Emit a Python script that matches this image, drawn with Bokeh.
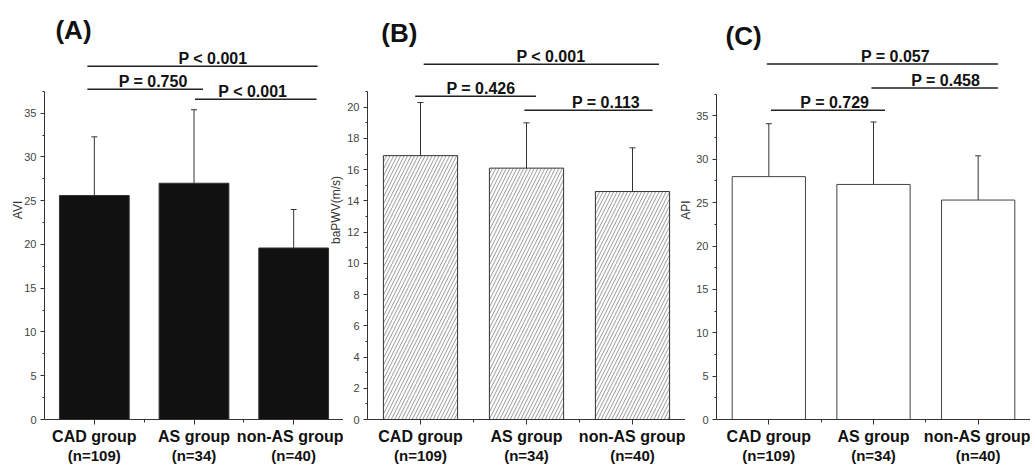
from bokeh.plotting import figure
from bokeh.layouts import row
from bokeh.models import (ColumnDataSource, Whisker, TeeHead, LinearAxis, FixedTicker,
                          SingleIntervalTicker, Range1d, Label)
from bokeh.embed import file_html
from bokeh.resources import INLINE

# ---------------- data ----------------
groups = ["CAD group", "AS group", "non-AS group"]
n_labels = ["(n=109)", "(n=34)", "(n=40)"]
positions = [1, 2, 3]

avi_mean = [25.6, 27.0, 19.6]
avi_sd = [6.7, 8.4, 4.4]

bapwv_mean = [16.9, 16.1, 14.6]
bapwv_sd = [3.4, 2.9, 2.8]

api_mean = [28.0, 27.1, 25.3]
api_sd = [6.1, 7.2, 5.1]

avi_p = ["P < 0.001", "P = 0.750", "P < 0.001"]
bapwv_p = ["P < 0.001", "P = 0.426", "P = 0.113"]
api_p = ["P = 0.057", "P = 0.458", "P = 0.729"]

# ---------------- layout constants (page pixels) ----------------
FONT = "Liberation Sans"
DARK = "#222222"
H = 466            # canvas height
ZERO = 420         # page y of value 0 (= bottom of the frame)


def make_panel(tag, means, sds, ylabel, tick_val, tick_page, bound, interval, pvals,
               brackets, tag_pos, width, border_left, label_standoff, style,
               upper_only, margin_left):
    k = (ZERO - tick_page) / tick_val      # pixels per data unit

    def ty(page_y):
        return (ZERO - page_y) / k

    p = figure(width=width, height=H, output_backend="svg", toolbar_location=None,
               x_range=Range1d(0.5, 3.5), y_range=Range1d(0, ty(0)),
               x_axis_location=None, y_axis_location=None,
               min_border_left=border_left, min_border_right=0, min_border_top=0,
               min_border_bottom=0)
    p.outline_line_color = None
    p.grid.visible = False
    p.border_fill_color = None
    p.background_fill_color = None
    if margin_left:
        p.margin = (0, 0, 0, margin_left)
    p.styles = {"flex-shrink": "0"}

    lower = [m if upper_only else m - s for m, s in zip(means, sds)]
    upper = [m + s for m, s in zip(means, sds)]
    src = ColumnDataSource(dict(x=positions, top=means, lower=lower, upper=upper))

    if style == "black":
        p.vbar(x="x", top="top", width=0.7, bottom=0, source=src,
               fill_color="#111111", line_color="#333333", line_width=1)
    elif style == "hatch":
        p.vbar(x="x", top="top", width=0.7, bottom=0, source=src,
               fill_color="white", line_color="#333333", line_width=1,
               hatch_pattern="/", hatch_color="#808080", hatch_scale=7, hatch_weight=0.8)
    else:
        p.vbar(x="x", top="top", width=0.7, bottom=0, source=src,
               fill_color="white", line_color="#444444", line_width=1)

    w = Whisker(base="x", lower="lower", upper="upper", source=src,
                line_color="#333333", line_width=1,
                upper_head=TeeHead(size=6, line_color="#333333", line_width=1),
                lower_head=None if upper_only else TeeHead(size=6, line_color="#333333", line_width=1))
    p.add_layout(w)

    # significance brackets
    for (x0, x1, yl_page, xt), txt in zip(brackets, pvals):
        yl = ty(yl_page)
        p.line([x0, x1], [yl, yl], line_color=DARK, line_width=1.5)
        p.add_layout(Label(x=xt, y=ty(yl_page - 8), text=txt, text_font=FONT,
                           text_font_style="bold", text_font_size="16px",
                           text_align="center", text_baseline="middle",
                           text_color="#111111"))

    p.add_layout(Label(x=tag_pos[0], y=ty(tag_pos[1]), text=tag, text_font=FONT,
                       text_font_style="bold", text_font_size="26px",
                       text_baseline="middle", text_color="#111111"))

    # y axis
    ya = LinearAxis(ticker=SingleIntervalTicker(interval=interval, num_minor_ticks=2),
                    bounds=(0, bound), axis_label=ylabel)
    ya.axis_label_text_font = FONT
    ya.axis_label_text_font_style = "normal"
    ya.axis_label_text_font_size = "12px"
    ya.axis_label_text_color = "#333333"
    ya.axis_label_standoff = label_standoff
    ya.major_label_text_font = FONT
    ya.major_label_text_font_size = "11px"
    ya.major_label_text_color = "#444444"
    ya.major_label_standoff = 4
    ya.axis_line_color = "#333333"
    ya.major_tick_line_color = "#333333"
    ya.minor_tick_line_color = "#333333"
    ya.major_tick_out = 4
    ya.major_tick_in = 0
    ya.minor_tick_out = 2
    ya.minor_tick_in = 0
    p.add_layout(ya, "left")

    # x axis (group names)
    xa = LinearAxis(ticker=FixedTicker(ticks=positions, minor_ticks=[1.5, 2.5, 3.5]),
                    major_label_overrides={pos: g for pos, g in zip(positions, groups)})
    xa.major_label_text_font = FONT
    xa.major_label_text_font_style = "bold"
    xa.major_label_text_font_size = "16px"
    xa.major_label_text_color = "#111111"
    xa.major_label_standoff = 3
    xa.axis_line_color = "#333333"
    xa.major_tick_line_color = "#333333"
    xa.minor_tick_line_color = "#333333"
    xa.major_tick_out = 5
    xa.major_tick_in = 0
    xa.minor_tick_out = 3
    xa.minor_tick_in = 0
    p.add_layout(xa, "below")

    # second line of the category labels
    xb = LinearAxis(ticker=FixedTicker(ticks=positions),
                    major_label_overrides={pos: n for pos, n in zip(positions, n_labels)})
    xb.major_label_text_font = FONT
    xb.major_label_text_font_style = "bold"
    xb.major_label_text_font_size = "15px"
    xb.major_label_text_color = "#111111"
    xb.major_label_standoff = -1
    xb.axis_line_color = None
    xb.major_tick_line_color = None
    xb.minor_tick_line_color = None
    xb.major_tick_out = 0
    xb.major_tick_in = 0
    p.add_layout(xb, "below")
    return p


pA = make_panel("(A)", avi_mean, avi_sd, "AVI", 35, 113, 37.5, 5, avi_p,
                [(0.93, 3.24, 66, 2.19), (0.93, 2.09, 89, 1.59), (2.01, 3.23, 99, 2.59)],
                (0.61, 30), 343, 44, -4, "black", True, 0)

pB = make_panel("(B)", bapwv_mean, bapwv_sd, "baPWV(m/s)", 20, 107, 21.0, 2, bapwv_p,
                [(1.03, 3.25, 64, 2.23), (0.95, 2.09, 96, 1.57), (1.98, 3.19, 110, 2.75)],
                (0.63, 33), 360, 42, 1, "hatch", False, -18)

pC = make_panel("(C)", api_mean, api_sd, "API", 35, 115.7, 37.5, 5, api_p,
                [(0.98, 3.19, 63.7, 2.21), (1.98, 3.19, 87.7, 2.69), (1.02, 2.11, 110, 1.63)],
                (0.586, 36), 356, 42, 0, "white", False, -11)

layout = row(pA, pB, pC)
open("out.html", "w").write(file_html(layout, INLINE))
